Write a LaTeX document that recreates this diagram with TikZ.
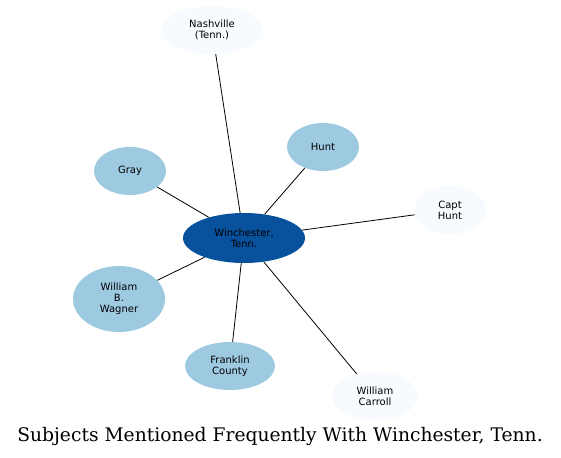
\documentclass[tikz,border=0pt]{standalone}
\usepackage{fontspec}
\setmainfont{DejaVu Sans}
\newfontfamily\titlefont{DejaVu Serif}
\usetikzlibrary{shapes.geometric}
\definecolor{hubblue}{HTML}{08519C}
\definecolor{midblue}{HTML}{9ECAE1}
\definecolor{paleblue}{HTML}{F7FBFF}
\tikzset{
  subj/.style={ellipse, inner sep=0pt, align=center, font=\fontsize{10}{11}\selectfont},
  hub/.style={subj, fill=hubblue},
  mid/.style={subj, fill=midblue},
  pale/.style={subj, fill=paleblue},
  link/.style={draw=black, line width=0.8pt}
}
\begin{document}
\begin{tikzpicture}[x=1pt, y=-1pt]
    \useasboundingbox (0,0) rectangle (561,457);
    % centre
    \node[hub, minimum width=122pt, minimum height=50pt] (winchester) at (244,238) {Winchester,\\Tenn.};
    % neighbours
    \node[pale, minimum width=102pt, minimum height=48pt] (nashville) at (212,30) {Nashville\\(Tenn.)};
    \node[mid, minimum width=72pt, minimum height=48pt] (hunt) at (323,147) {Hunt};
    \node[mid, minimum width=72pt, minimum height=48pt] (gray) at (130,171) {Gray};
    \node[pale, minimum width=72pt, minimum height=48pt] (capthunt) at (450,210) {Capt\\Hunt};
    \node[mid, minimum width=92pt, minimum height=66pt] (wagner) at (119,299) {William\\B.\\Wagner};
    \node[mid, minimum width=90pt, minimum height=48pt] (franklin) at (230,366) {Franklin\\County};
    \node[pale, minimum width=86pt, minimum height=48pt] (carroll) at (375,396) {William\\Carroll};
    % links
    \foreach \n in {nashville, hunt, gray, capthunt, wagner, franklin, carroll}
        \draw[link] (winchester) -- (\n);
    % title
    \node[font=\titlefont\fontsize{18.7}{22}\selectfont] (title) at (280,436) {Subjects Mentioned Frequently With Winchester, Tenn.};
\end{tikzpicture}
\end{document}
